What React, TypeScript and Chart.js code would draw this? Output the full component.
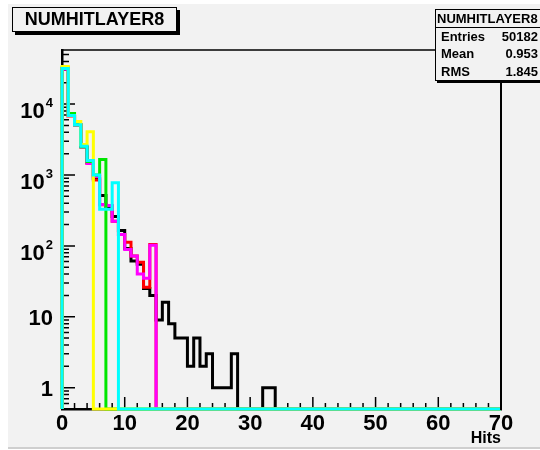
import React, { useEffect, useRef } from "react";
import { Chart, registerables } from "chart.js";

Chart.register(...registerables);

// ---------- data ----------
const HIST_TITLE = "NUMHITLAYER8";
const X_TITLE = "Hits";
const STAT_LABELS = ["Entries", "Mean", "RMS"];
const STAT_VALUES = ["50182", "0.953", "1.845"];

const X_MIN = 0;
const X_MAX = 70;
const BIN_WIDTH = 1;
const Y_MIN = 0.5;
const Y_MAX = 58000;

const X_TICKS = [0, 10, 20, 30, 40, 50, 60, 70];
const X_MINOR_TICKS = [2, 4, 6, 8, 12, 14, 16, 18, 22, 24, 26, 28, 32, 34, 36, 38, 42, 44, 46, 48, 52, 54, 56, 58, 62, 64, 66, 68];
const Y_TICKS = [1, 10, 100, 1000, 10000];
const Y_TICK_BASE = ["1", "10", "10", "10", "10"];
const Y_TICK_EXP = ["", "", "2", "3", "4"];
const Y_MINOR_MULT = [2, 3, 4, 5, 6, 7, 8, 9];
const Y_DECADES = [0.1, 1, 10, 100, 1000, 10000];

// bin contents, bin i covers [i, i+1)
const blackCounts = [32000, 6800, 5100, 2500, 1500, 900, 515, 360, 260, 165, 92, 61, 55, 25, 20, 9, 16, 8, 5, 5, 2, 5, 2, 3, 1, 1, 1, 3, 0, 0, 0, 0, 1, 1];
const redCounts = [32000, 6800, 5100, 2500, 1450, 850, 380, 370, 222, 145, 113, 72, 59, 26, 105];
const magentaCounts = [31000, 6700, 5100, 2500, 1450, 950, 385, 370, 222, 145, 89, 72, 40, 35, 102];
const greenCounts = [32000, 7400, 5100, 2500, 1550, 1000, 1660];
const yellowCounts = [34000, 6800, 5700, 2700, 4060];
const cyanCounts = [31800, 6900, 5100, 2540, 1600, 1000, 330, 330, 780];

const FONT = "'Liberation Sans', Arial, Helvetica, sans-serif";
const BG = "#f2f2f2";

function histPoints(counts: number[]) {
  const nBins = Math.round((X_MAX - X_MIN) / BIN_WIDTH);
  const pts: { x: number; y: number }[] = [{ x: X_MIN, y: Y_MIN }];
  for (let i = 0; i < nBins; i++) {
    const c = counts[i] ?? 0;
    pts.push({ x: X_MIN + i * BIN_WIDTH, y: c > Y_MIN ? c : Y_MIN });
  }
  pts.push({ x: X_MAX, y: Y_MIN });
  return pts;
}

const rootAxes = {
  id: "rootAxes",
  beforeDatasetsDraw(chart: any) {
    const { ctx, chartArea: a, scales } = chart;
    const x = scales.x;
    const y = scales.y;
    ctx.save();
    ctx.strokeStyle = "#000";
    ctx.lineWidth = 1.5;
    ctx.beginPath();
    for (const d of Y_DECADES) {
      if (d >= Y_MIN && d <= Y_MAX) {
        const py = y.getPixelForValue(d);
        ctx.moveTo(a.left, py);
        ctx.lineTo(a.left + 13, py);
      }
      for (const m of Y_MINOR_MULT) {
        const v = d * m;
        if (v < Y_MIN || v > Y_MAX) continue;
        const py = y.getPixelForValue(v);
        ctx.moveTo(a.left, py);
        ctx.lineTo(a.left + 7, py);
      }
    }
    for (const v of X_TICKS) {
      const px = x.getPixelForValue(v);
      ctx.moveTo(px, a.bottom);
      ctx.lineTo(px, a.bottom - 12);
    }
    for (const v of X_MINOR_TICKS) {
      const px = x.getPixelForValue(v);
      ctx.moveTo(px, a.bottom);
      ctx.lineTo(px, a.bottom - 6);
    }
    ctx.stroke();

    // y-axis labels (ROOT style: 10 with superscript exponent)
    ctx.fillStyle = "#000";
    ctx.textBaseline = "alphabetic";
    ctx.textAlign = "right";
    const rightEdge = a.left - 9;
    Y_TICKS.forEach((v, i) => {
      const py = y.getPixelForValue(v);
      const exp = Y_TICK_EXP[i];
      if (exp) {
        ctx.font = `bold 13px ${FONT}`;
        const ew = ctx.measureText(exp).width;
        ctx.fillText(exp, rightEdge, py + 3);
        ctx.font = `bold 22px ${FONT}`;
        ctx.fillText(Y_TICK_BASE[i], rightEdge - ew - 1, py + 14);
      } else {
        ctx.font = `bold 22px ${FONT}`;
        ctx.fillText(Y_TICK_BASE[i], rightEdge, py + 8);
      }
    });
    ctx.restore();
  },
  afterDraw(chart: any) {
    const { ctx, chartArea: a } = chart;
    ctx.save();
    ctx.strokeStyle = "#000";
    ctx.lineWidth = 1.5;
    ctx.beginPath();
    ctx.moveTo(a.left, a.top);
    ctx.lineTo(a.right, a.top);
    ctx.stroke();
    ctx.lineWidth = 2;
    ctx.beginPath();
    ctx.moveTo(a.right, a.top);
    ctx.lineTo(a.right, a.bottom + 1);
    ctx.stroke();
    ctx.restore();
  },
};

export default function App() {
  const ref = useRef<HTMLCanvasElement | null>(null);

  useEffect(() => {
    if (!ref.current) return;
    const mk = (label: string, counts: number[], color: string) => ({
      label,
      data: histPoints(counts),
      borderColor: color,
      backgroundColor: color,
      borderWidth: 3,
      pointRadius: 0,
      stepped: true,
      fill: false,
      clip: 4,
    });
    const chart = new Chart(ref.current, {
      type: "line",
      data: {
        datasets: [
          mk("cyan", cyanCounts, "#00ffff"),
          mk("yellow", yellowCounts, "#ffff00"),
          mk("green", greenCounts, "#00e600"),
          mk("magenta", magentaCounts, "#ff00ff"),
          mk("red", redCounts, "#ff0000"),
          mk("black", blackCounts, "#000000"),
        ] as any,
      },
      options: {
        animation: false,
        responsive: false,
        devicePixelRatio: 1,
        layout: { padding: { left: 0, top: 50, right: 39, bottom: 0 } },
        plugins: { legend: { display: false }, tooltip: { enabled: false } },
        scales: {
          x: {
            type: "linear",
            min: X_MIN,
            max: X_MAX,
            afterFit: (s: any) => {
              s.height = 41;
            },
            afterBuildTicks: (s: any) => {
              s.ticks = X_TICKS.map((v) => ({ value: v }));
            },
            grid: { display: false, drawTicks: false },
            border: { display: true, color: "#000", width: 2.5 },
            ticks: {
              padding: 2,
              color: "#000",
              maxRotation: 0,
              autoSkip: false,
              font: { family: FONT, size: 22, weight: "bold" },
            },
            title: {
              display: true,
              text: X_TITLE,
              align: "end",
              color: "#000",
              padding: { top: 0, bottom: 2 },
              font: { family: FONT, size: 16, weight: "bold" },
            },
          },
          y: {
            type: "logarithmic",
            min: Y_MIN,
            max: Y_MAX,
            afterFit: (s: any) => {
              s.width = 62;
            },
            afterBuildTicks: (s: any) => {
              s.ticks = Y_TICKS.map((v) => ({ value: v }));
            },
            grid: { display: false, drawTicks: false },
            border: { display: true, color: "#000", width: 2.5 },
            ticks: { display: false },
          },
        },
      } as any,
      plugins: [rootAxes],
    });
    return () => chart.destroy();
  }, []);

  return (
    <div
      style={{
        position: "fixed",
        left: 0,
        top: 0,
        width: 540,
        height: 450,
        overflow: "hidden",
        background: "#ffffff",
        fontFamily: FONT,
      }}
    >
      <div
        style={{
          position: "absolute",
          left: 8,
          top: 4,
          width: 532,
          height: 443,
          background: BG,
          borderBottom: "2px solid #cfcfcf",
        }}
      />
      <canvas
        ref={ref}
        width={540}
        height={450}
        style={{ position: "absolute", left: 0, top: 0, width: 540, height: 450, display: "block" }}
      />
      <div
        style={{
          position: "absolute",
          left: 12,
          top: 7,
          width: 163,
          height: 23,
          border: "1px solid #000",
          background: BG,
          boxShadow: "3px 3px 0 #000",
          fontSize: 18,
          fontWeight: "bold",
          lineHeight: "23px",
          textAlign: "center",
          color: "#000",
        }}
      >
        {HIST_TITLE}
      </div>
      <div
        style={{
          position: "absolute",
          left: 435,
          top: 9,
          width: 110,
          height: 70,
          border: "1px solid #000",
          background: BG,
          boxShadow: "2px 2px 0 #000",
          color: "#000",
          fontWeight: "bold",
          fontSize: 13,
        }}
      >
        <div
          style={{
            height: 17,
            lineHeight: "17px",
            borderBottom: "1px solid #000",
            paddingLeft: 1,
            whiteSpace: "nowrap",
          }}
        >
          {HIST_TITLE}
        </div>
        {STAT_LABELS.map((l, i) => (
          <div
            key={l}
            style={{
              position: "relative",
              height: 17.3,
              lineHeight: "17.3px",
              whiteSpace: "nowrap",
            }}
          >
            <span style={{ position: "absolute", left: 5 }}>{l}</span>
            <span style={{ position: "absolute", right: 8 }}>{STAT_VALUES[i]}</span>
          </div>
        ))}
      </div>
    </div>
  );
}
